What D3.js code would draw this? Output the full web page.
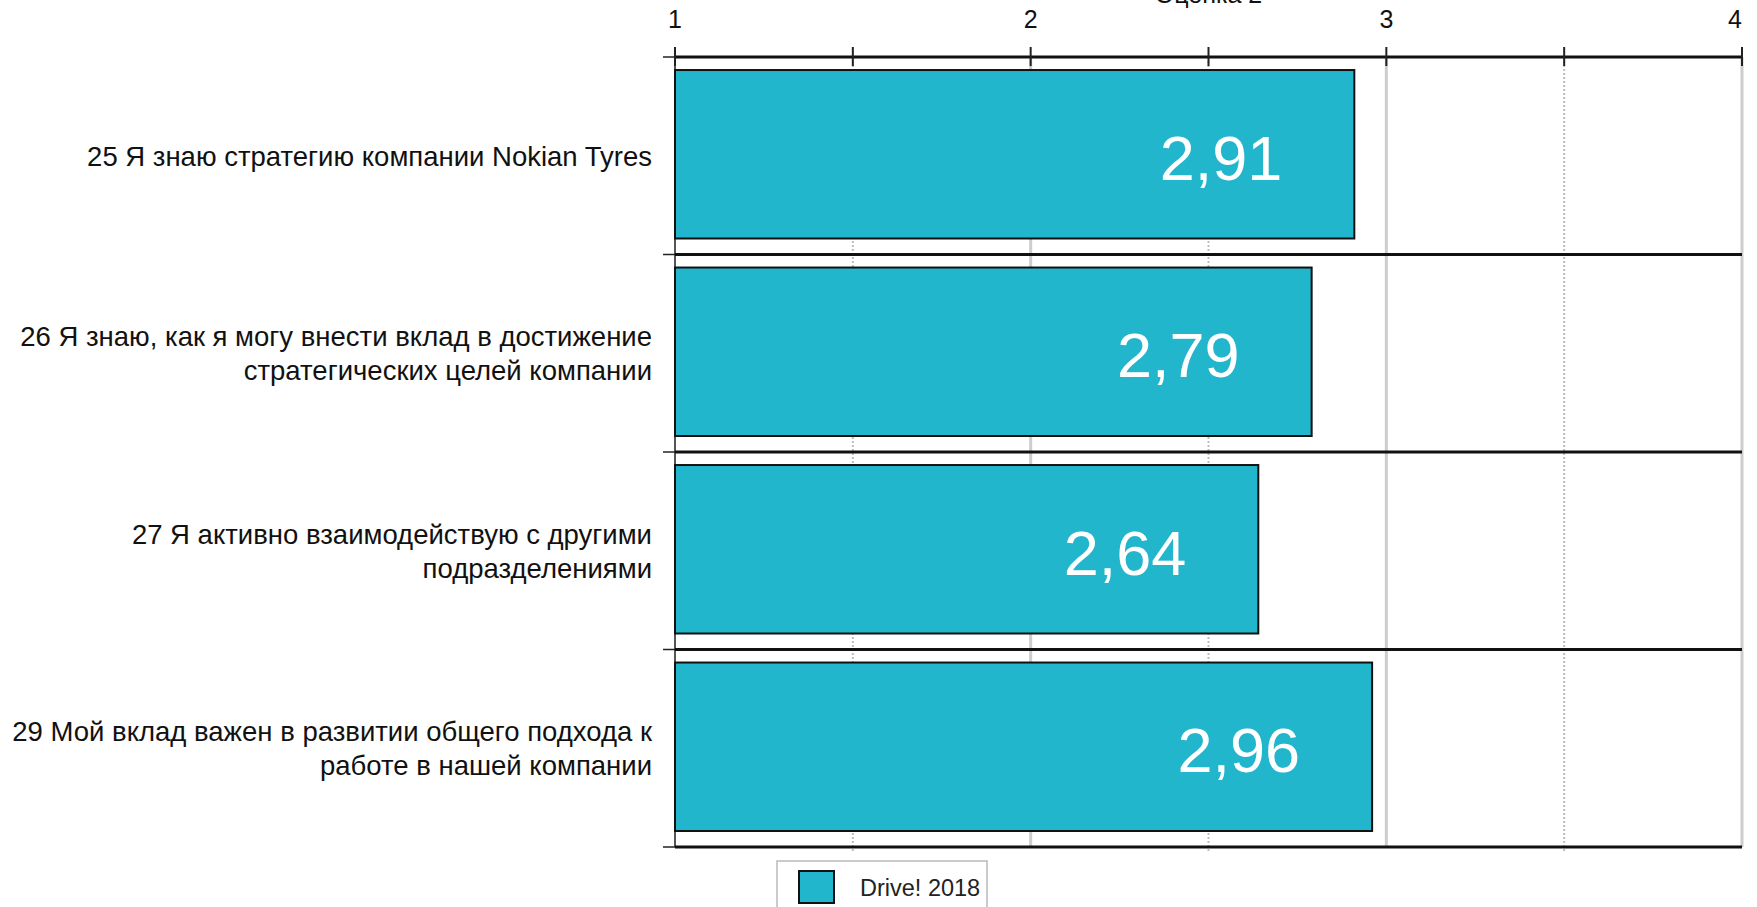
<!DOCTYPE html>
<html>
<head>
<meta charset="utf-8">
<script src="https://cdnjs.cloudflare.com/ajax/libs/d3/7.8.5/d3.min.js"></script>
<style>
  body { margin: 0; background: #fff; }
  svg { display: block; font-family: "Liberation Sans", Arial, sans-serif; }
</style>
</head>
<body>
<div id="chart"></div>
<script>
"use strict";

// data
var categories = ["25", "26", "27", "29"];
var labelLines = [
  ["25 Я знаю стратегию компании Nokian Tyres"],
  ["26 Я знаю, как я могу внести вклад в достижение", "стратегических целей компании"],
  ["27 Я активно взаимодействую с другими", "подразделениями"],
  ["29 Мой вклад важен в развитии общего подхода к", "работе в нашей компании"]
];
var values = [2.91, 2.79, 2.64, 2.96];
var tickValues = [1, 2, 3, 4];
var minorTicks = [1.5, 2.5, 3.5];
var seriesName = "Drive! 2018";
var axisTitle = "Оценка 2";

// set the dimensions of the plot area
var W = 1757, H = 907;
var plotLeft = 675, plotRight = 1742, plotTop = 57, plotBottom = 847;
var barColor = "#22b6cd";

var svg = d3.select("#chart").append("svg")
  .attr("width", W)
  .attr("height", H);

var x = d3.scaleLinear().domain([1, 4]).range([plotLeft, plotRight]);
var y = d3.scaleBand().domain(categories).range([plotTop, plotBottom]).padding(0);
var bw = y.bandwidth();

// vertical grid: solid at integers, dotted at halves
svg.append("g").selectAll("line")
  .data(tickValues.slice(1))
  .join("line")
    .attr("x1", d => x(d)).attr("x2", d => x(d))
    .attr("y1", plotTop).attr("y2", plotBottom)
    .attr("stroke", "#cdcdcd")
    .attr("stroke-width", 3);

svg.append("g").selectAll("line")
  .data(minorTicks)
  .join("line")
    .attr("x1", d => x(d)).attr("x2", d => x(d))
    .attr("y1", plotTop).attr("y2", plotBottom + 4)
    .attr("stroke", "#bdbdbd")
    .attr("stroke-width", 2)
    .attr("stroke-dasharray", "2,2");

// left axis line
svg.append("line")
  .attr("x1", plotLeft).attr("x2", plotLeft)
  .attr("y1", plotTop).attr("y2", plotBottom)
  .attr("stroke", "#555")
  .attr("stroke-width", 2);

// bars
svg.append("g").selectAll("rect")
  .data(values)
  .join("rect")
    .attr("x", x(1))
    .attr("y", (d, i) => y(categories[i]) + bw * 0.066)
    .attr("width", d => x(d) - x(1))
    .attr("height", bw * 0.853)
    .attr("fill", barColor)
    .attr("stroke", "#111")
    .attr("stroke-width", 2);

// band separators (black) and small left ticks
var bounds = categories.map(c => y(c)).concat([plotBottom]);
svg.append("g").selectAll("line")
  .data(bounds)
  .join("line")
    .attr("x1", plotLeft).attr("x2", plotRight)
    .attr("y1", d => d).attr("y2", d => d)
    .attr("stroke", "#111")
    .attr("stroke-width", 3);
svg.append("g").selectAll("line")
  .data(bounds)
  .join("line")
    .attr("x1", plotLeft - 12).attr("x2", plotLeft)
    .attr("y1", d => d).attr("y2", d => d)
    .attr("stroke", "#222")
    .attr("stroke-width", 1.5);

// top axis ticks
svg.append("g").selectAll("line")
  .data(tickValues.concat(minorTicks))
  .join("line")
    .attr("x1", d => x(d)).attr("x2", d => x(d))
    .attr("y1", plotTop - 10).attr("y2", plotTop + 9)
    .attr("stroke", "#222")
    .attr("stroke-width", 2);

// top tick labels
svg.append("g").selectAll("text")
  .data(tickValues)
  .join("text")
    .attr("x", d => x(d) + (d === 4 ? -7 : 0))
    .attr("y", 28)
    .attr("text-anchor", "middle")
    .attr("font-size", 25)
    .attr("fill", "#111")
    .text(d => d);

// axis title, cut off at the top edge as in the original
svg.append("text")
  .attr("x", (plotLeft + plotRight) / 2)
  .attr("y", 3)
  .attr("text-anchor", "middle")
  .attr("font-size", 25)
  .attr("fill", "#111")
  .text(axisTitle);

// value labels inside bars
svg.append("g").selectAll("text")
  .data(values)
  .join("text")
    .attr("x", d => x(d) - 72)
    .attr("y", (d, i) => y(categories[i]) + bw / 2 + 24)
    .attr("text-anchor", "end")
    .attr("font-size", 63)
    .attr("fill", "#fff")
    .text(d => d.toFixed(2).replace(".", ","));

// category labels
var lineH = 34;
var lab = svg.append("g").selectAll("text")
  .data(labelLines)
  .join("text")
    .attr("text-anchor", "end")
    .attr("font-size", 27.5)
    .attr("fill", "#111");
lab.each(function(lines, i) {
  var cy = y(categories[i]) + bw / 2;
  var y0 = cy - (lines.length - 1) * lineH / 2 + 10;
  d3.select(this).selectAll("tspan")
    .data(lines)
    .join("tspan")
      .attr("x", 652)
      .attr("y", (d, j) => y0 + j * lineH)
      .text(d => d);
});

// legend
var leg = svg.append("g").attr("transform", "translate(777,861)");
leg.append("rect")
  .attr("x", 0).attr("y", 0)
  .attr("width", 210).attr("height", 60)
  .attr("fill", "#fff")
  .attr("stroke", "#bbb")
  .attr("stroke-width", 1.5);
leg.append("rect")
  .attr("x", 22).attr("y", 10)
  .attr("width", 35).attr("height", 32)
  .attr("fill", barColor)
  .attr("stroke", "#111")
  .attr("stroke-width", 2);
leg.append("text")
  .attr("x", 83).attr("y", 35)
  .attr("font-size", 23.5)
  .attr("fill", "#222")
  .text(seriesName);
</script>
</body>
</html>
